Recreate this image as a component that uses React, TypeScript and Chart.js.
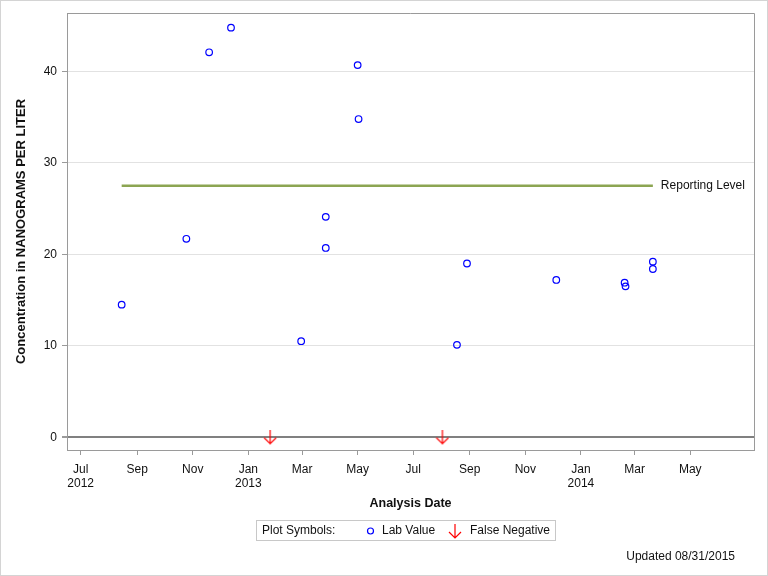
import React, { useEffect, useRef } from "react";
import { Chart, registerables } from "chart.js";

Chart.register(...registerables);

// ---- Data ----
const labDates: string[] = [
  "2012-08-15", "2012-10-25", "2012-11-19", "2012-12-13", "2013-02-28",
  "2013-03-27", "2013-03-27", "2013-05-01", "2013-05-02", "2013-08-18",
  "2013-08-29", "2013-12-05", "2014-02-18", "2014-02-19", "2014-03-21",
  "2014-03-21",
];
const labValues: number[] = [
  14.5, 21.7, 42.1, 44.8, 10.5, 24.1, 20.7, 40.7, 34.8, 10.1, 19.0, 17.2,
  16.9, 16.5, 19.2, 18.4,
];
const falseNegDates: string[] = ["2013-01-25", "2013-08-02"];
const falseNegValues: number[] = [0, 0];
const reportingLevel = 27.5;
const reportingLabel = "Reporting Level";

const xTickDates: string[] = [
  "2012-07-01", "2012-09-01", "2012-11-01", "2013-01-01", "2013-03-01",
  "2013-05-01", "2013-07-01", "2013-09-01", "2013-11-01", "2014-01-01",
  "2014-03-01", "2014-05-01",
];
const xTickLabels: (string | string[])[] = [
  ["Jul", "2012"], "Sep", "Nov", ["Jan", "2013"], "Mar", "May",
  "Jul", "Sep", "Nov", ["Jan", "2014"], "Mar", "May",
];
const yTickValues: number[] = [0, 10, 20, 30, 40];

const yTitle = "Concentration in NANOGRAMS PER LITER";
const xTitle = "Analysis Date";
const footnote = "Updated 08/31/2015";

const xMinDate = "2012-06-16";
const xMaxDate = "2014-07-10";
const yMin = -1.4;
const yMax = 46.4;

const toT = (s: string) => Date.parse(s + "T00:00:00Z");

const FONT = "'Liberation Sans', Arial, sans-serif";

function makeArrow(): HTMLCanvasElement {
  const c = document.createElement("canvas");
  c.width = 14;
  c.height = 15;
  const g = c.getContext("2d")!;
  g.strokeStyle = "#ff0000";
  g.lineWidth = 1.2;
  g.beginPath();
  g.moveTo(7, 0);
  g.lineTo(7, 14);
  g.moveTo(1, 8);
  g.lineTo(7, 14);
  g.lineTo(13, 8);
  g.stroke();
  return c;
}

function drawArrow(ctx: CanvasRenderingContext2D, x: number, y: number) {
  ctx.save();
  ctx.strokeStyle = "#ff0000";
  ctx.lineWidth = 1.2;
  ctx.beginPath();
  ctx.moveTo(x, y - 7);
  ctx.lineTo(x, y + 7);
  ctx.moveTo(x - 6, y + 1);
  ctx.lineTo(x, y + 7);
  ctx.lineTo(x + 6, y + 1);
  ctx.stroke();
  ctx.restore();
}

const decorPlugin = {
  id: "decor",
  afterDraw(chart: any) {
    const ctx: CanvasRenderingContext2D = chart.ctx;
    const a = chart.chartArea;
    const xs = chart.scales.x;
    const ys = chart.scales.y;
    ctx.save();
    // outer frame
    ctx.strokeStyle = "#d4d4d4";
    ctx.lineWidth = 1;
    ctx.strokeRect(0.5, 0.5, chart.width - 1, chart.height - 1);
    // plot border top/right
    ctx.strokeStyle = "#9a9a9a";
    ctx.beginPath();
    ctx.moveTo(a.left, a.top + 0.5);
    ctx.lineTo(a.right + 0.5, a.top + 0.5);
    ctx.lineTo(a.right + 0.5, a.bottom);
    ctx.stroke();

    // reporting level label
    const lastT = toT(labDates[labDates.length - 1]);
    ctx.fillStyle = "#111";
    ctx.font = `12px ${FONT}`;
    ctx.textBaseline = "middle";
    ctx.textAlign = "left";
    ctx.fillText(reportingLabel, xs.getPixelForValue(lastT) + 8, ys.getPixelForValue(reportingLevel));

    // axis titles
    ctx.font = `bold 12.5px ${FONT}`;
    ctx.textAlign = "center";
    ctx.fillText(xTitle, (a.left + a.right) / 2, 504);
    ctx.save();
    ctx.font = `bold 13px ${FONT}`;
    ctx.translate(21, (a.top + a.bottom) / 2);
    ctx.rotate(-Math.PI / 2);
    ctx.fillText(yTitle, 0, 0);
    ctx.restore();

    // legend
    ctx.strokeStyle = "#c8c8c8";
    ctx.strokeRect(256.5, 520.5, 299, 20);
    ctx.font = `12px ${FONT}`;
    ctx.textAlign = "left";
    ctx.fillStyle = "#111";
    ctx.fillText("Plot Symbols:", 262, 531);
    ctx.strokeStyle = "#0000ff";
    ctx.lineWidth = 1.2;
    ctx.beginPath();
    ctx.arc(370.5, 531, 3, 0, Math.PI * 2);
    ctx.stroke();
    ctx.fillText("Lab Value", 382, 531);
    drawArrow(ctx, 455, 531);
    ctx.fillText("False Negative", 470, 531);

    // footnote
    ctx.textAlign = "right";
    ctx.fillText(footnote, 735, 557);
    ctx.restore();
  },
};

export default function App() {
  const ref = useRef<HTMLCanvasElement | null>(null);
  useEffect(() => {
    document.body.style.margin = "0";
    const arrow = makeArrow();
    const labPts = labDates.map((d, i) => ({ x: toT(d), y: labValues[i] }));
    const fnPts = falseNegDates.map((d, i) => ({ x: toT(d), y: falseNegValues[i] }));
    const refPts = [
      { x: toT(labDates[0]), y: reportingLevel },
      { x: toT(labDates[labDates.length - 1]), y: reportingLevel },
    ];
    const chart = new Chart(ref.current!, {
      type: "scatter",
      data: {
        datasets: [
          {
            label: reportingLabel,
            data: refPts,
            showLine: true,
            borderColor: "#8ca552",
            borderWidth: 2.5,
            pointRadius: 0,
            order: 3,
          } as any,
          {
            label: "Lab Value",
            data: labPts,
            pointStyle: "circle",
            pointRadius: 3.3,
            borderColor: "#0000ff",
            backgroundColor: "rgba(0,0,0,0)",
            borderWidth: 1.2,
            order: 1,
          },
          {
            label: "False Negative",
            data: fnPts,
            pointStyle: arrow as any,
            pointRadius: 7,
            order: 2,
          },
        ],
      },
      options: {
        animation: false,
        responsive: false,
        events: [],
        layout: { padding: { top: 13, right: 14, left: 0, bottom: 0 } },
        plugins: { legend: { display: false }, tooltip: { enabled: false } },
        scales: {
          x: {
            type: "linear",
            min: toT(xMinDate),
            max: toT(xMaxDate),
            afterBuildTicks: (s: any) => {
              s.ticks = xTickDates.map((d) => ({ value: toT(d) }));
            },
            afterFit: (s: any) => {
              s.height = 126;
            },
            ticks: {
              autoSkip: false,
              maxRotation: 0,
              padding: 7,
              color: "#111",
              font: { family: FONT, size: 12, lineHeight: 1.22 },
              callback: (_v: any, i: number) => xTickLabels[i],
            },
            grid: { drawOnChartArea: false, tickLength: 5, tickColor: "#9a9a9a" },
            border: { color: "#9a9a9a" },
          },
          y: {
            type: "linear",
            min: yMin,
            max: yMax,
            afterBuildTicks: (s: any) => {
              s.ticks = yTickValues.map((v) => ({ value: v }));
            },
            afterFit: (s: any) => {
              s.width = 67;
            },
            ticks: {
              padding: 5,
              color: "#111",
              font: { family: FONT, size: 12 },
            },
            grid: {
              color: (c: any) => (c.tick && c.tick.value === 0 ? "#808080" : "#e2e2e2"),
              lineWidth: (c: any) => (c.tick && c.tick.value === 0 ? 2 : 1),
              tickLength: 5,
              tickColor: "#9a9a9a",
            },
            border: { color: "#9a9a9a" },
          },
        },
      },
      plugins: [decorPlugin],
    } as any);
    return () => chart.destroy();
  }, []);
  return (
    <div style={{ position: "absolute", left: 0, top: 0, width: 768, height: 576, background: "#fff" }}>
      <canvas ref={ref} width={768} height={576} style={{ display: "block", width: 768, height: 576 }} />
    </div>
  );
}
